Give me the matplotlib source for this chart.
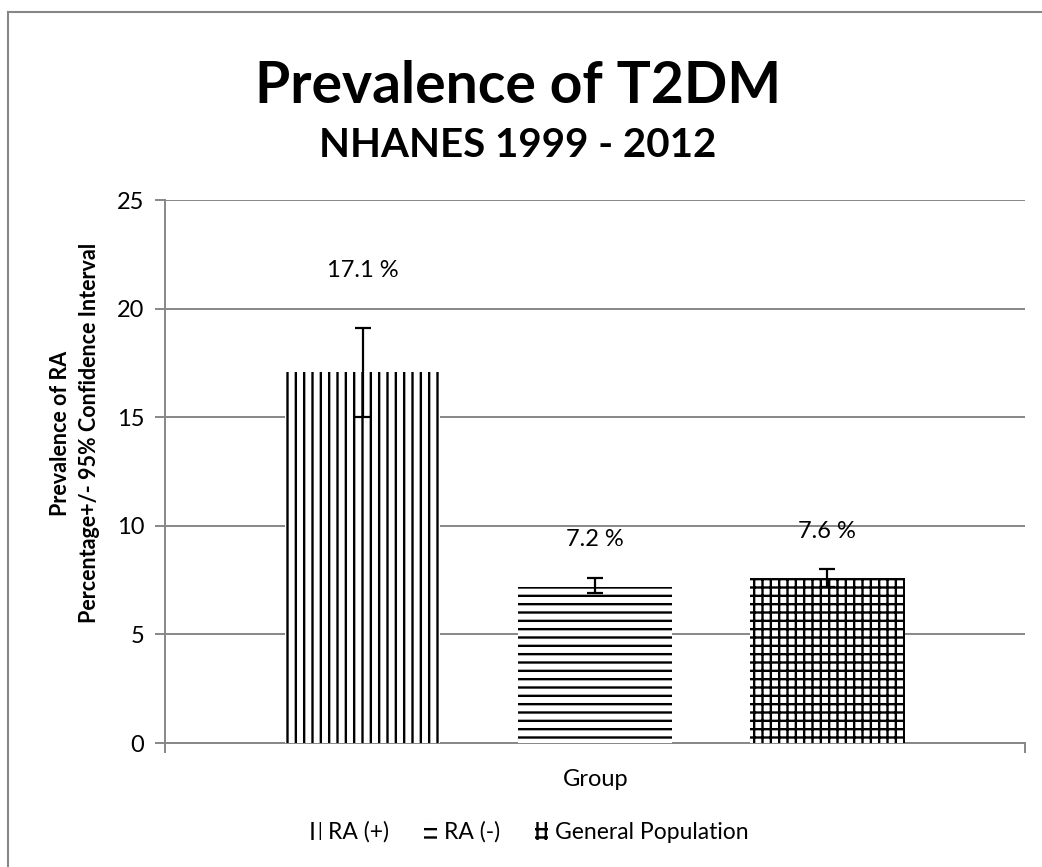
import matplotlib
matplotlib.use('Agg')
import matplotlib.pyplot as plt
from matplotlib.patches import Patch
from matplotlib.lines import Line2D
import numpy as np

# data
series = ['RA (+)', 'RA (-)', 'General Population']
prevalence = [17.1, 7.2, 7.6]
ci_low = [15.0, 6.9, 7.2]
ci_high = [19.1, 7.6, 8.0]
value_labels = ['17.1 %', '7.2 %', '7.6 %']
label_offsets = [4.35, 1.85, 1.85]
hatches = ['||', '--', '++']

plt.rcParams['font.family'] = ['Lato', 'DejaVu Sans']
plt.rcParams['hatch.linewidth'] = 1.7
grey = '#878787'
fs = 17

fig = plt.figure(figsize=(10.42, 8.67), dpi=100)
ax = fig.add_axes([0.1583, 0.1430, 0.8254, 0.6263])

width = 0.18
offsets = [-0.27, 0.0, 0.27]
for i in range(3):
    ax.bar(offsets[i], prevalence[i], width=width, color='white', edgecolor='black',
           linewidth=0, hatch=hatches[i], zorder=3)
    err = [[prevalence[i] - ci_low[i]], [ci_high[i] - prevalence[i]]]
    ax.errorbar(offsets[i], prevalence[i], yerr=err, fmt='none', ecolor='black',
                elinewidth=1.6, capsize=6, capthick=1.6, zorder=4)
    ax.text(offsets[i], prevalence[i] + label_offsets[i], value_labels[i],
            ha='center', va='baseline', fontsize=fs)

ax.set_xlim(-0.5, 0.5)
ax.set_ylim(0, 25)
ax.set_yticks(np.arange(0, 26, 5))
ax.set_xticks([-0.5, 0.5])
ax.set_xticklabels(['', ''])
fig.text(0.572, 0.0934, 'Group', ha='center', va='baseline', fontsize=fs)
ax.grid(axis='y', color=grey, linewidth=1.4, zorder=0)
ax.set_axisbelow(True)
for s in ['top', 'right']:
    ax.spines[s].set_visible(False)
for s in ['left', 'bottom']:
    ax.spines[s].set_color(grey)
    ax.spines[s].set_linewidth(1.4)
ax.tick_params(axis='y', colors=grey, length=7, width=1.4, labelsize=fs, labelcolor='black', pad=8)
ax.tick_params(axis='x', colors=grey, length=7, width=1.4)

fig.text(0.497, 0.8812, 'Prevalence of T2DM', ha='center', va='baseline',
         fontsize=41, fontweight='bold')
fig.text(0.497, 0.8189, 'NHANES 1999 - 2012', ha='center', va='baseline',
         fontsize=29, fontweight='bold')
fig.text(0.072, 0.5006, 'Prevalence of RA\nPercentage+/- 95% Confidence Interval',
         rotation=90, ha='center', va='center', fontsize=15.5, fontweight='bold',
         linespacing=1.5)

handles = [Patch(facecolor='white', edgecolor='black', linewidth=0, hatch=h) for h in hatches]
fig.legend(handles, series, loc='center', bbox_to_anchor=(0.507, 0.04), ncol=3,
           frameon=False, fontsize=16.5, handlelength=0.6, handleheight=0.8,
           handletextpad=0.3, columnspacing=1.5)

# outer chart frame (left and top edges visible)
fig.add_artist(Line2D([0.008, 0.008], [0, 0.986], color=grey, linewidth=1.5))
fig.add_artist(Line2D([0.008, 1.0], [0.986, 0.986], color=grey, linewidth=1.5))

fig.savefig('out.png', dpi=100)
